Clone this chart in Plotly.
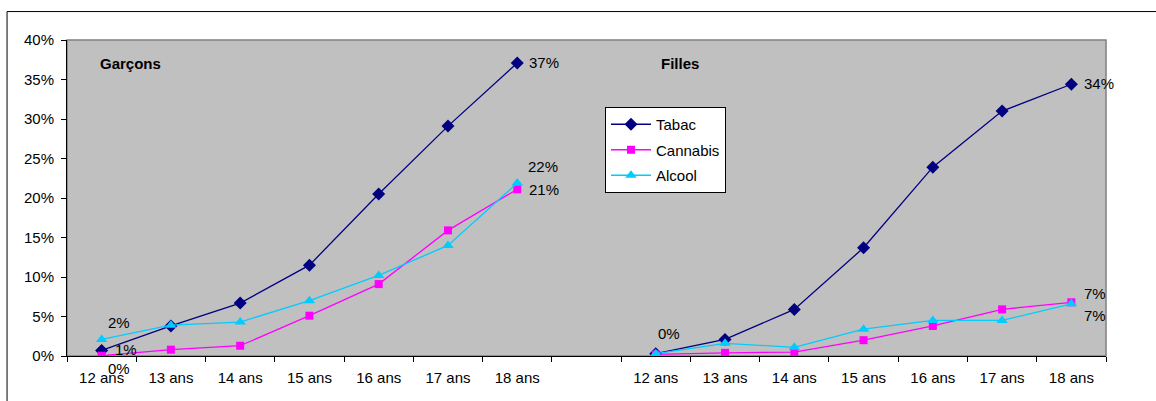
import plotly.graph_objects as go

# Age classes, shown once for boys and once for girls, with an empty slot between
ages = ["12 ans", "13 ans", "14 ans", "15 ans", "16 ans", "17 ans", "18 ans"]

# Prevalence (%) by age - boys
garcons_tabac = [0.7, 3.8, 6.7, 11.5, 20.5, 29.1, 37.1]
garcons_cannabis = [0.04, 0.8, 1.3, 5.1, 9.1, 15.9, 21.1]
garcons_alcool = [2.1, 3.9, 4.3, 7.0, 10.2, 14.0, 21.9]

# Prevalence (%) by age - girls
filles_tabac = [0.3, 2.1, 5.9, 13.7, 23.9, 31.0, 34.4]
filles_cannabis = [0.2, 0.4, 0.5, 2.0, 3.8, 5.9, 6.8]
filles_alcool = [0.3, 1.6, 1.1, 3.4, 4.5, 4.5, 6.6]

series_names = ["Tabac", "Cannabis", "Alcool"]
y_ticks = [0, 5, 10, 15, 20, 25, 30, 35, 40]

# --- shared x axis: 7 boys slots, 1 empty slot, 7 girls slots ---
n_age = len(ages)
x_g = list(range(n_age))
x_f = [n_age + 1 + i for i in range(n_age)]
x_all = x_g + [n_age] + x_f
tick_centers = x_g + x_f
tick_labels = ages + ages
n_slots = len(x_all)
boundaries = [i - 0.5 for i in range(n_slots + 1)]

FONT = "Liberation Sans, Arial, sans-serif"
FS = 15

styles = {
    "Tabac": dict(color="#000080", symbol="diamond", size=10),
    "Cannabis": dict(color="#FF00FF", symbol="square", size=8),
    "Alcool": dict(color="#00CCFF", symbol="triangle-up", size=10),
}
data = {
    "Tabac": (garcons_tabac, filles_tabac),
    "Cannabis": (garcons_cannabis, filles_cannabis),
    "Alcool": (garcons_alcool, filles_alcool),
}

fig = go.Figure()
for name in series_names:
    g, f = data[name]
    st = styles[name]
    fig.add_trace(go.Scatter(
        x=x_all,
        y=g + [None] + f,
        mode="lines+markers",
        name=name,
        legendgroup=name,
        line=dict(color=st["color"], width=1.3),
        marker=dict(color=st["color"], symbol=st["symbol"], size=st["size"]),
        connectgaps=False,
    ))

# invisible trace carrying the boundary-tick axis
fig.add_trace(go.Scatter(x=[boundaries[0], boundaries[-1]], y=[0, 0], xaxis="x2",
                         mode="markers", marker=dict(opacity=0), showlegend=False,
                         hoverinfo="skip"))

# value labels: (series, group 0=boys 1=girls, age index, xshift, yshift)
label_specs = [
    ("Alcool", 0, 0, 4, 17),
    ("Tabac", 0, 0, 11, 1),
    ("Cannabis", 0, 0, 4, -13),
    ("Tabac", 0, 6, 10, 0),
    ("Alcool", 0, 6, 9, 16),
    ("Cannabis", 0, 6, 10, 0),
    ("Alcool", 1, 0, 0, 20),
    ("Tabac", 1, 6, 11, 1),
    ("Cannabis", 1, 6, 11, 9),
    ("Alcool", 1, 6, 11, -12),
]
for name, grp, idx, dx, dy in label_specs:
    v = data[name][grp][idx]
    xv = (x_g if grp == 0 else x_f)[idx]
    fig.add_annotation(x=xv, y=v, text=f"{round(v)}%", showarrow=False,
                       xanchor="left", yanchor="middle", xshift=dx, yshift=dy,
                       font=dict(size=FS, color="black", family=FONT))

# panel titles
fig.add_annotation(x=x_g[0], y=37, text="<b>Garçons</b>", showarrow=False,
                   xanchor="left", yanchor="middle", xshift=-4,
                   font=dict(size=FS, color="black", family=FONT))
fig.add_annotation(x=x_f[0] + 0.1, y=37, text="<b>Filles</b>", showarrow=False,
                   xanchor="left", yanchor="middle", xshift=-4,
                   font=dict(size=FS, color="black", family=FONT))

# grey frame around the plotting area
fig.add_shape(type="rect", xref="paper", yref="paper", x0=0, x1=1, y0=0, y1=1,
              line=dict(color="#808080", width=1.5), layer="below")
# outer chart frame
fig.add_shape(type="rect", xref="paper", yref="paper", x0=-0.0577, x1=1.06,
              y0=-0.2, y1=1.09, line=dict(color="black", width=1))

fig.update_layout(
    width=1156, height=401,
    margin=dict(l=67, r=50, t=40, b=45),
    paper_bgcolor="white",
    plot_bgcolor="#C0C0C0",
    font=dict(family=FONT, size=FS, color="black"),
    showlegend=True,
    legend=dict(x=0.5178, y=0.788, xanchor="left", yanchor="top",
                bgcolor="white", bordercolor="black", borderwidth=1,
                font=dict(size=FS, family=FONT), tracegroupgap=3, itemwidth=40),
    xaxis=dict(range=[boundaries[0], boundaries[-1]], tickvals=tick_centers,
               ticktext=tick_labels, ticks="", showgrid=False, zeroline=False,
               showline=True, linecolor="black", linewidth=1,
               ticklabelstandoff=8, tickfont=dict(size=FS, family=FONT)),
    xaxis2=dict(range=[boundaries[0], boundaries[-1]], overlaying="x",
                tickvals=boundaries, showticklabels=False, ticks="outside",
                ticklen=5, tickcolor="black", showgrid=False, zeroline=False,
                showline=False, side="bottom"),
    yaxis=dict(range=[0, 40], tickvals=y_ticks,
               ticktext=[f"{v}%" for v in y_ticks], ticks="outside",
               ticklen=5, tickcolor="black", showgrid=False, zeroline=False,
               showline=True, linecolor="black", linewidth=1,
               ticklabelstandoff=4, tickfont=dict(size=FS, family=FONT)),
)

fig.write_html("out.html")
